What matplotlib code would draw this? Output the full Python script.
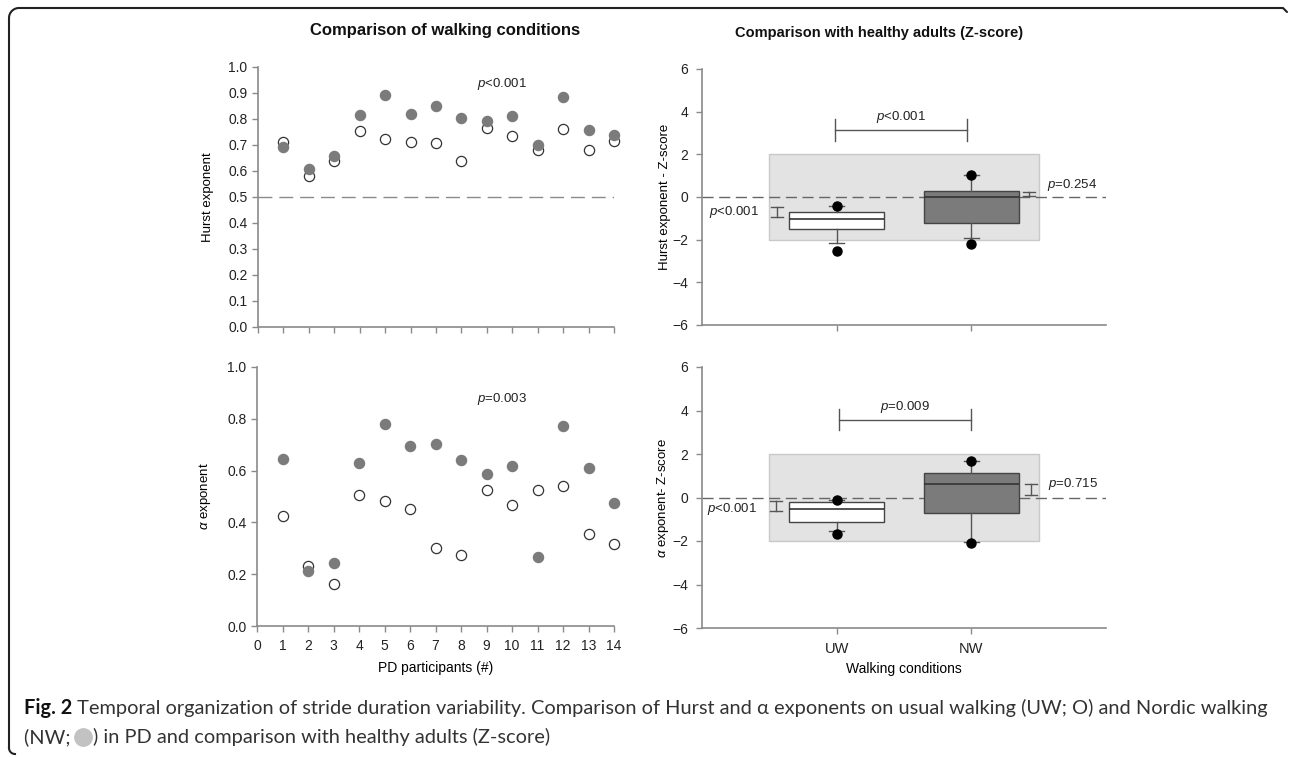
import numpy as np
import matplotlib
matplotlib.use("Agg")
import matplotlib.pyplot as plt
from matplotlib.lines import Line2D

# ---------------- data ----------------
participants = [1, 2, 3, 4, 5, 6, 7, 8, 9, 10, 11, 12, 13, 14]
hurst_uw = [0.713, 0.581, 0.640, 0.752, 0.725, 0.711, 0.708, 0.639, 0.765, 0.734, 0.681, 0.761, 0.680, 0.717]
hurst_nw = [0.692, 0.609, 0.658, 0.815, 0.891, 0.820, 0.851, 0.803, 0.793, 0.810, 0.700, 0.886, 0.758, 0.740]
alpha_uw = [0.425, 0.230, 0.163, 0.504, 0.482, 0.451, 0.300, 0.275, 0.527, 0.466, 0.524, 0.539, 0.356, 0.318]
alpha_nw = [0.645, 0.214, 0.244, 0.630, 0.780, 0.696, 0.704, 0.642, 0.585, 0.617, 0.265, 0.771, 0.611, 0.475]

conditions = ["UW", "NW"]
# box statistics (Z-score): whislo, q1, median, q3, whishi, fliers
hurst_z_whislo = [-2.17, -1.94]
hurst_z_q1 = [-1.52, -1.20]
hurst_z_med = [-1.05, 0.00]
hurst_z_q3 = [-0.72, 0.30]
hurst_z_whishi = [-0.41, 1.03]
hurst_z_fliers = [[-2.53, -0.40], [-2.22, 1.03]]

alpha_z_whislo = [-1.53, -2.04]
alpha_z_q1 = [-1.14, -0.72]
alpha_z_med = [-0.54, 0.64]
alpha_z_q3 = [-0.22, 1.13]
alpha_z_whishi = [-0.10, 1.67]
alpha_z_fliers = [[-1.67, -0.10], [-2.10, 1.70]]

# p-value annotations
hurst_p_between = "0.001"
hurst_p_uw = "0.001"
hurst_p_nw = "0.254"
alpha_p_between = "0.009"
alpha_p_uw = "0.001"
alpha_p_nw = "0.715"
hurst_p_left = "<0.001"
alpha_p_left = "=0.003"

# ---------------- style ----------------
plt.rcParams['font.family'] = ['Liberation Sans', 'DejaVu Sans']
plt.rcParams['mathtext.fontset'] = 'custom'
plt.rcParams['mathtext.it'] = 'Liberation Sans:italic'
plt.rcParams['mathtext.rm'] = 'Liberation Sans'

W, H = 1290, 757
fig = plt.figure(figsize=(W / 100, H / 100), dpi=100)

SPINE = '#8a8a8a'
FILL = '#7b7b7b'


def style_axes(ax):
    for s in ['top', 'right']:
        ax.spines[s].set_visible(False)
    for s in ['left', 'bottom']:
        ax.spines[s].set_color(SPINE)
        ax.spines[s].set_linewidth(1.2)
    ax.tick_params(colors=SPINE, labelcolor='#222222', length=4, width=1.0, labelsize=10)


# ---------------- left panels ----------------
ax1 = fig.add_axes([258 / W, 1 - 327 / H, 356 / W, 260 / H])
ax2 = fig.add_axes([257 / W, 1 - 626 / H, 357 / W, 259 / H])

for ax, uw, nw in [(ax1, hurst_uw, hurst_nw), (ax2, alpha_uw, alpha_nw)]:
    style_axes(ax)
    ax.scatter(participants, uw, s=54, facecolor='white', edgecolor='#333333', linewidth=0.9,
               zorder=3, clip_on=False)
    ax.scatter(participants, nw, s=54, facecolor=FILL, edgecolor=FILL, linewidth=0.9,
               zorder=4, clip_on=False)
    ax.set_xlim(0, 14)
    ax.set_ylim(0, 1.0)
    ax.set_xticks(range(0, 15))

ax1.set_yticks(np.arange(0, 1.01, 0.1))
ax1.set_yticklabels([f"{v:.1f}" for v in np.arange(0, 1.01, 0.1)])
ax1.tick_params(axis='x', labelbottom=False)
ax1.axhline(0.5, color='#8a8a8a', lw=1.0, dashes=(10, 5), zorder=1)
ax1.set_ylabel("Hurst exponent", fontsize=9.5)
ax1.yaxis.set_label_coords(-0.140, 0.5)
ax1.yaxis.label.set_va('center')
ax1.text(0.685, 0.935, r"$\it{p}$" + hurst_p_left, transform=ax1.transAxes, fontsize=9.5,
         ha='center', va='center', color='#222222')

ax2.set_yticks(np.arange(0, 1.01, 0.2))
ax2.set_yticklabels([f"{v:.1f}" for v in np.arange(0, 1.01, 0.2)])
ax2.set_ylabel(r"$\it{\alpha}$ exponent", fontsize=9.5)
ax2.yaxis.set_label_coords(-0.146, 0.5)
ax2.yaxis.label.set_va('center')
ax2.set_xlabel("PD participants (#)", fontsize=10)
ax2.xaxis.set_label_coords(0.5, (626 - 668) / 259)
ax2.xaxis.label.set_va('center')
ax2.tick_params(axis='x', pad=5)
ax2.text(0.685, 0.875, r"$\it{p}$" + alpha_p_left, transform=ax2.transAxes, fontsize=9.5,
         ha='center', va='center', color='#222222')

fig.text(445 / W, 1 - 31 / H, "Comparison of walking conditions", fontsize=12,
         fontweight='bold', ha='center', va='center', color='#111111')
fig.text(879 / W, 1 - 33 / H, "Comparison with healthy adults (Z-score)", fontsize=10.5,
         fontweight='bold', ha='center', va='center', color='#111111')

# ---------------- right panels ----------------
ax3 = fig.add_axes([702 / W, 1 - 325 / H, 404 / W, 256 / H])
ax4 = fig.add_axes([702 / W, 1 - 628 / H, 404 / W, 261 / H])

box_sets = [
    (ax3, hurst_z_whislo, hurst_z_q1, hurst_z_med, hurst_z_q3, hurst_z_whishi, hurst_z_fliers),
    (ax4, alpha_z_whislo, alpha_z_q1, alpha_z_med, alpha_z_q3, alpha_z_whishi, alpha_z_fliers),
]
for ax, wl, q1, med, q3, wh, fl in box_sets:
    style_axes(ax)
    ax.set_xlim(0, 3)
    ax.set_ylim(-6, 6)
    ax.set_yticks([-6, -4, -2, 0, 2, 4, 6])
    ax.tick_params(axis='y', pad=6)
    ax.fill_between([0.5, 2.5], -2, 2, facecolor='#e3e3e3', edgecolor='#c9c9c9', lw=1.0, zorder=0)
    ax.axhline(0, color='#666666', lw=1.0, dashes=(8, 4), zorder=1)
    stats = []
    for i in range(2):
        stats.append(dict(whislo=wl[i], q1=q1[i], med=med[i], q3=q3[i], whishi=wh[i],
                          fliers=fl[i], label=conditions[i]))
    bp = ax.bxp(stats, positions=[1, 2], widths=0.71, capwidths=0.11, patch_artist=True,
                showfliers=True,
                boxprops=dict(edgecolor='#444444', linewidth=1.0),
                medianprops=dict(color='#333333', linewidth=1.2),
                whiskerprops=dict(color='#555555', linewidth=1.0),
                capprops=dict(color='#555555', linewidth=1.0),
                flierprops=dict(marker='o', markerfacecolor='black', markeredgecolor='black',
                                markersize=6.5),
                zorder=3)
    bp['boxes'][0].set_facecolor('white')
    bp['boxes'][1].set_facecolor(FILL)
    ax.set_xticks([1, 2])

ax3.tick_params(axis='x', labelbottom=False)
ax4.set_xticklabels(conditions, fontsize=10.5)
ax4.tick_params(axis='x', pad=6)
ax4.set_xlabel("Walking conditions", fontsize=10)
ax4.xaxis.set_label_coords(0.5, (628 - 669) / 261)
ax4.xaxis.label.set_va('center')

ax3.set_ylabel("Hurst exponent - Z-score", fontsize=9.5)
ax3.yaxis.set_label_coords(-0.092, 0.5)
ax3.yaxis.label.set_va('center')
ax4.set_ylabel(r"$\it{\alpha}$ exponent- Z-score", fontsize=9.5)
ax4.yaxis.set_label_coords(-0.097, 0.5)
ax4.yaxis.label.set_va('center')


def bracket(ax, x0, x1, y, h, text, ty):
    ax.plot([x0, x1], [y, y], color='#555555', lw=1.0)
    ax.plot([x0, x0], [y - h, y + h], color='#555555', lw=1.0)
    ax.plot([x1, x1], [y - h, y + h], color='#555555', lw=1.0)
    ax.text((x0 + x1) / 2, ty, text, ha='center', va='center', fontsize=9.5, color='#222222')


def ibar(ax, x, y0, y1, w=0.045):
    ax.plot([x, x], [y0, y1], color='#555555', lw=1.0)
    ax.plot([x - w, x + w], [y0, y0], color='#555555', lw=1.0)
    ax.plot([x - w, x + w], [y1, y1], color='#555555', lw=1.0)


bracket(ax3, 0.99, 1.97, 3.14, 0.5, r"$\it{p}$<" + hurst_p_between, 3.75)
ibar(ax3, 0.56, -0.45, -0.95)
ax3.text(0.42, -0.72, r"$\it{p}$<" + hurst_p_uw, ha='right', va='center', fontsize=9.5, color='#222222')
ibar(ax3, 2.43, 0.23, 0.03)
ax3.text(2.56, 0.58, r"$\it{p}$=" + hurst_p_nw, ha='left', va='center', fontsize=9.5, color='#222222')

bracket(ax4, 1.02, 2.0, 3.57, 0.48, r"$\it{p}$=" + alpha_p_between, 4.15)
ibar(ax4, 0.55, -0.14, -0.60)
ax4.text(0.41, -0.55, r"$\it{p}$<" + alpha_p_uw, ha='right', va='center', fontsize=9.5, color='#222222')
ibar(ax4, 2.44, 0.63, 0.10)
ax4.text(2.57, 0.64, r"$\it{p}$=" + alpha_p_nw, ha='left', va='center', fontsize=9.5, color='#222222')

# ---------------- border ----------------
r = 10
th = np.linspace(np.pi, np.pi / 2, 20)
cx, cy = 9 + r, 8 + r
xs = [9] + list(cx + r * np.cos(th)) + [1283, 1287]
ys = [748] + list(cy - r * np.sin(th)) + [8, 12]
fig.add_artist(Line2D([x / W for x in xs], [1 - y / H for y in ys], color='#222222', lw=1.5,
                      transform=fig.transFigure, solid_capstyle='round'))
th3 = np.linspace(np.pi, 1.5 * np.pi, 10)
bx = [15 + 6 * np.cos(t) for t in th3]
by = [748 - 6 * np.sin(t) for t in th3]
fig.add_artist(Line2D([x / W for x in bx], [1 - y / H for y in by], color='#222222', lw=1.5,
                      transform=fig.transFigure))

# ---------------- caption ----------------
cap_family = ['Lato', 'DejaVu Sans']
renderer = fig.canvas.get_renderer()
line1_rest = " Temporal organization of stride duration variability. Comparison of Hurst and \u03b1 exponents on usual walking (UW; O) and Nordic walking"
target_right = 1268
fs = 14
for _ in range(3):
    tb = fig.text(24 / W, 1 - 708 / H, "Fig. 2", fontsize=fs, fontweight='bold', family=cap_family,
                  ha='left', va='center', color='#111111')
    bb = tb.get_window_extent(renderer)
    tr = fig.text(bb.x1 / W, 1 - 708 / H, line1_rest, fontsize=fs, family=cap_family,
                  ha='left', va='center', color='#333333')
    bb2 = tr.get_window_extent(renderer)
    scale = (target_right - 24) / (bb2.x1 - 24)
    if abs(scale - 1) < 0.003:
        break
    tb.remove()
    tr.remove()
    fs = fs * scale

t3 = fig.text(24 / W, 1 - 737 / H, "(NW; ", fontsize=fs, family=cap_family, ha='left', va='center',
              color='#333333')
bb3 = t3.get_window_extent(renderer)
circ_x = bb3.x1 + 7
fig.add_artist(Line2D([circ_x / W], [1 - 737 / H], marker='o', markersize=12.5, color='#c2c2c2',
                      markeredgecolor='#c2c2c2', transform=fig.transFigure))
fig.text((circ_x + 10) / W, 1 - 737 / H, ") in PD and comparison with healthy adults (Z-score)",
         fontsize=fs, family=cap_family, ha='left', va='center', color='#333333')

fig.savefig("out.png", dpi=100)
